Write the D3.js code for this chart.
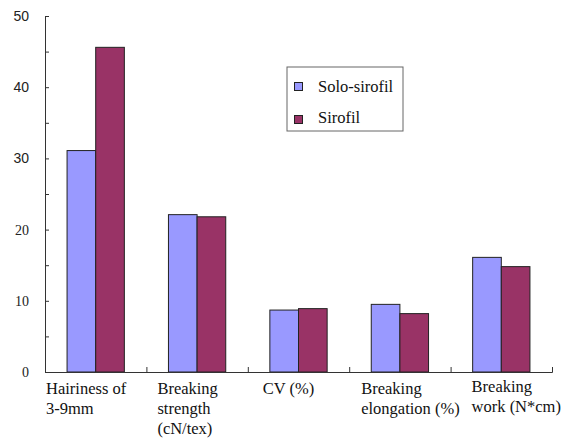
<!DOCTYPE html>
<html><head><meta charset="utf-8">
<script src="https://cdn.jsdelivr.net/npm/d3@7"></script>
<style>html,body{margin:0;padding:0;background:#fff;}svg{display:block;}
svg text.serif{font-family:'Liberation Serif', serif !important;}
svg text.sans{font-family:'Liberation Sans', sans-serif !important;}
</style>
</head><body>
<svg id="chart" width="574" height="440"></svg>
<script>
const categories = ["Hairiness of 3-9mm", "Breaking strength (cN/tex)", "CV (%)", "Breaking elongation (%)", "Breaking work (N*cm)"];
const categoryLines = [["Hairiness of", "3-9mm"], ["Breaking", "strength", "(cN/tex)"], ["CV (%)"], ["Breaking", "elongation (%)"], ["Breaking", "work (N*cm)"]];
const seriesNames = ["Solo-sirofil", "Sirofil"];
const soloSirofil = [31.1, 22.1, 8.7, 9.5, 16.1];
const sirofil = [45.6, 21.8, 8.9, 8.2, 14.8];
const yTickLabels = [0, 10, 20, 30, 40, 50];

const colors = {"Solo-sirofil": "#9999FF", "Sirofil": "#993366"};
const labelDx = [-11, -1, 3, 0, 9];
const labelDy = [0, 0, 0, 0, -2];

const svg = d3.select("#chart");
const mLeft = 45, mRight = 552, mTop = 16, mBottom = 372;

const x0 = d3.scaleBand().domain(categories).range([mLeft, mRight]).padding(0);
const x1 = d3.scaleBand().domain(seriesNames).range([0, x0.bandwidth()]).paddingInner(0).paddingOuter(0.77);
const y = d3.scaleLinear().domain([0, 50]).range([mBottom, mTop]);

const values = {"Solo-sirofil": soloSirofil, "Sirofil": sirofil};

// bars
const g = svg.append("g");
categories.forEach((c, i) => {
  seriesNames.forEach(s => {
    const v = values[s][i];
    g.append("rect")
      .attr("x", x0(c) + x1(s))
      .attr("y", y(v))
      .attr("width", x1.bandwidth())
      .attr("height", y(0) - y(v))
      .attr("fill", colors[s])
      .attr("stroke", "#222")
      .attr("stroke-width", 1);
  });
});

// y axis
const yAxis = d3.axisRight(y).tickValues(d3.range(0, 51, 5)).tickSize(4).tickFormat("");
const ya = svg.append("g").attr("transform", `translate(${mLeft},0)`).call(yAxis);
ya.select(".domain").attr("stroke", "#333");
ya.selectAll(".tick line").attr("stroke", "#333");

// y tick labels
svg.append("g").selectAll("text").data(yTickLabels).join("text")
  .attr("class", d => d >= 30 ? "sans" : "serif")
  .attr("font-family", d => d >= 30 ? "Liberation Sans" : "Liberation Serif")
  .attr("style", d => "font-family:'" + (d >= 30 ? "Liberation Sans" : "Liberation Serif") + "';font-size:14px")
  .attr("x", 29)
  .attr("y", d => y(d))
  .attr("dy", "0.36em")
  .attr("text-anchor", "end")
  .attr("fill", "#222")
  .text(d => d);

// x axis
const xa = svg.append("g").attr("transform", `translate(0,${mBottom})`)
  .call(d3.axisTop(d3.scaleLinear().domain([0, categories.length]).range([mLeft, mRight]))
    .tickValues(d3.range(0, categories.length + 1)).tickSize(5).tickFormat(""));
xa.select(".domain").attr("stroke", "#333");
xa.selectAll(".tick line").attr("stroke", "#333");

// x labels
categories.forEach((c, i) => {
  categoryLines[i].forEach((line, j) => {
    svg.append("text")
      .attr("class", "serif")
      .attr("font-family", "Liberation Serif")
      .attr("style", "font-family:'Liberation Serif';font-size:16.5px")
      .attr("fill", "#111")
      .attr("x", x0(c) + 12 + labelDx[i])
      .attr("y", 394 + labelDy[i] + j * 20)
      .text(line);
  });
});

// legend
const lg = svg.append("g").attr("transform", "translate(287,67)");
lg.append("rect").attr("x", 0).attr("y", 0).attr("width", 116).attr("height", 64)
  .attr("fill", "#fff").attr("stroke", "#666").attr("stroke-width", 1);
seriesNames.forEach((s, i) => {
  lg.append("rect").attr("x", 7.5).attr("y", 15.5 + i * 33).attr("width", 8).attr("height", 8)
    .attr("fill", colors[s]).attr("stroke", "#222");
  lg.append("text").attr("x", 31).attr("y", 25 + i * 31)
    .attr("class", "serif")
    .attr("font-family", "Liberation Serif")
    .attr("style", "font-family:'Liberation Serif';font-size:16.5px")
    .attr("fill", "#111").text(s);
});
</script>
</body></html>
